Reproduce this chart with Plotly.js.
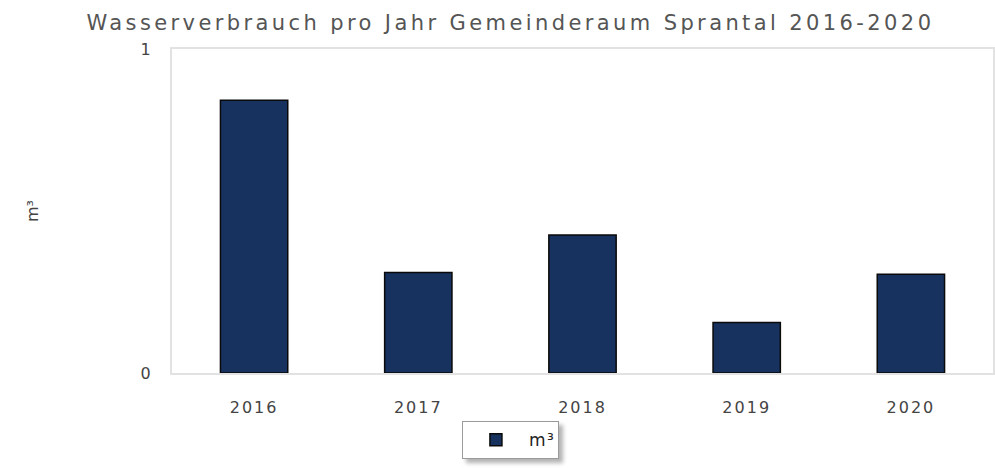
<!DOCTYPE html>
<html>
<head>
<meta charset="utf-8">
<script src="https://cdn.plot.ly/plotly-3.0.1.min.js"></script>
<style>
html,body{margin:0;padding:0;background:#fff;}
#chart{width:995px;height:468px;}
#chart .gtitle{letter-spacing:3.4px;}
#chart .xtick text, #chart .ytick text{letter-spacing:2px;}
#chart .legendtext{letter-spacing:1.5px;}
#chart .legend .bg{filter:drop-shadow(4px 4px 2px rgba(0,0,0,0.3));}
</style>
</head>
<body>
<div id="chart"></div>
<script>
const years = ['2016', '2017', '2018', '2019', '2020'];
const consumption = [0.842, 0.31, 0.426, 0.156, 0.305];
const seriesName = 'm³';
const chartTitle = 'Wasserverbrauch pro Jahr Gemeinderaum Sprantal 2016-2020';
const yTicks = [0, 1];

const trace = {
  type: 'bar',
  x: years,
  y: consumption,
  name: seriesName,
  width: 0.41,
  marker: { color: '#17325f', line: { color: '#0a0a0a', width: 1.5 } },
  hoverinfo: 'x+y'
};

const layout = {
  width: 995, height: 468,
  margin: { l: 172, r: 2, t: 49, b: 95 },
  paper_bgcolor: '#ffffff', plot_bgcolor: '#ffffff',
  font: { family: 'DejaVu Sans, sans-serif', color: '#444' },
  title: {
    text: chartTitle,
    font: { family: 'DejaVu Sans, sans-serif', size: 21, color: '#555' },
    x: 0.513, xref: 'container', xanchor: 'center',
    y: 0.951, yref: 'container', yanchor: 'middle'
  },
  xaxis: {
    type: 'category',
    showline: true, mirror: true, linecolor: '#e2e2e2', linewidth: 2,
    showgrid: false, zeroline: false, ticks: '',
    tickfont: { size: 16, color: '#444' }, ticklabelstandoff: 19,
    automargin: false
  },
  yaxis: {
    range: [0, 1], tickvals: yTicks, ticktext: yTicks.map(String),
    showline: true, mirror: true, linecolor: '#e2e2e2', linewidth: 2,
    showgrid: false, zeroline: false, ticks: '',
    tickfont: { size: 16, color: '#444' }, ticklabelstandoff: 14,
    title: { text: 'm³', font: { size: 16, color: '#444' }, standoff: 100 },
    automargin: false
  },
  showlegend: true,
  legend: {
    orientation: 'h',
    xref: 'container', yref: 'container',
    x: 0.513, xanchor: 'center', y: 0.1, yanchor: 'top',
    bgcolor: '#ffffff', bordercolor: '#9a9a9a', borderwidth: 1,
    itemwidth: 56,
    font: { size: 17, color: '#222' }
  },
  bargap: 0.59
};

Plotly.newPlot('chart', [trace], layout, { displayModeBar: false, staticPlot: true });
</script>
</body>
</html>
